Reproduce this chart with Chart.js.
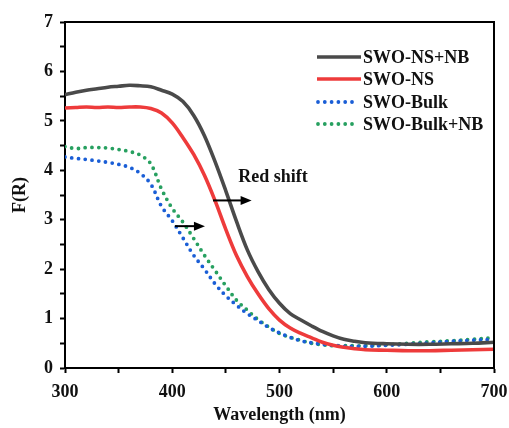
<!DOCTYPE html>
<html>
<head>
<meta charset="utf-8">
<script src="https://cdn.jsdelivr.net/npm/chart.js@4.4.1/dist/chart.umd.min.js"></script>
<style>
  html, body { margin: 0; padding: 0; background: #fff; }
  #wrap { width: 509px; height: 428px; position: relative; }
</style>
</head>
<body>
<div id="wrap"><canvas id="chart"></canvas></div>
<script>
// wavelength (nm) shared by all four spectra
const wavelengths = [300, 310, 320, 330, 340, 350, 360, 370, 380, 390, 400, 410, 420, 430, 440, 450, 460, 470, 480, 490, 500, 510, 520, 530, 540, 550, 560, 570, 580, 600, 620, 640, 660, 680, 700];

const nsNb   = [5.53, 5.58, 5.62, 5.65, 5.68, 5.70, 5.72, 5.71, 5.69, 5.62, 5.54, 5.39, 5.11, 4.70, 4.17, 3.58, 2.96, 2.39, 1.95, 1.59, 1.31, 1.10, 0.97, 0.85, 0.74, 0.65, 0.58, 0.54, 0.51, 0.49, 0.48, 0.48, 0.49, 0.50, 0.52];
const ns     = [5.26, 5.27, 5.28, 5.27, 5.28, 5.27, 5.28, 5.28, 5.25, 5.16, 4.96, 4.66, 4.32, 3.90, 3.38, 2.80, 2.27, 1.85, 1.50, 1.20, 0.97, 0.81, 0.70, 0.61, 0.52, 0.46, 0.42, 0.39, 0.37, 0.36, 0.35, 0.35, 0.36, 0.37, 0.38];
const bulk   = [4.27, 4.24, 4.22, 4.19, 4.16, 4.12, 4.06, 3.94, 3.72, 3.27, 2.98, 2.63, 2.28, 2.00, 1.70, 1.46, 1.27, 1.10, 0.96, 0.82, 0.71, 0.62, 0.55, 0.51, 0.48, 0.46, 0.44, 0.44, 0.44, 0.46, 0.48, 0.51, 0.54, 0.56, 0.58];
const bulkNb = [4.48, 4.44, 4.46, 4.46, 4.45, 4.42, 4.38, 4.31, 4.13, 3.62, 3.23, 2.95, 2.62, 2.28, 1.97, 1.66, 1.37, 1.17, 0.98, 0.83, 0.70, 0.62, 0.56, 0.50, 0.47, 0.45, 0.45, 0.45, 0.45, 0.47, 0.50, 0.53, 0.55, 0.58, 0.61];

const seriesNames = ['SWO-NS+NB', 'SWO-NS', 'SWO-Bulk', 'SWO-Bulk+NB'];
const xTicks = [300, 400, 500, 600, 700];
const yTicks = [0, 1, 2, 3, 4, 5, 6, 7];

const FONT = '"Liberation Serif", "Times New Roman", serif';

function pts(ys) {
  return wavelengths.map((x, i) => ({ x: x, y: ys[i] }));
}

function solid(label, ys, color) {
  return {
    label, data: pts(ys), borderColor: color, backgroundColor: color,
    borderWidth: 3.6, pointRadius: 0, tension: 0.35
  };
}

function dotted(label, ys, color) {
  return {
    label, data: pts(ys), borderColor: color, backgroundColor: color,
    borderWidth: 3.8, borderDash: [0, 6.8], borderCapStyle: 'round',
    pointRadius: 0, tension: 0.35
  };
}

// frame, legend and the "Red shift" arrows
const extras = {
  id: 'extras',
  afterDraw(chart) {
    const { ctx, chartArea: a, scales: { x, y } } = chart;
    ctx.save();
    ctx.strokeStyle = '#000';
    ctx.lineWidth = 2;
    ctx.beginPath();
    ctx.moveTo(a.left, a.top);
    ctx.lineTo(a.right, a.top);
    ctx.lineTo(a.right, a.bottom);
    ctx.stroke();

    // legend
    const rows = [57, 79, 102, 124];
    ctx.font = 'bold 18px ' + FONT;
    ctx.textBaseline = 'middle';
    ctx.textAlign = 'left';
    chart.data.datasets.forEach((ds, i) => {
      const yy = rows[i];
      ctx.strokeStyle = ds.borderColor;
      ctx.lineWidth = ds.borderWidth;
      ctx.lineCap = ds.borderCapStyle || 'butt';
      ctx.setLineDash(ds.borderDash || []);
      ctx.beginPath();
      if (ds.borderDash) {
        ctx.moveTo(318, yy);
        ctx.lineTo(358, yy);
      } else {
        ctx.moveTo(317, yy);
        ctx.lineTo(361, yy);
      }
      ctx.stroke();
      ctx.setLineDash([]);
      ctx.fillStyle = '#111';
      ctx.fillText(ds.label, 363, yy + 1);
    });

    // arrows
    const arrow = (x0, x1, yv) => {
      const px0 = x.getPixelForValue(x0), px1 = x.getPixelForValue(x1), py = y.getPixelForValue(yv);
      ctx.strokeStyle = '#000';
      ctx.fillStyle = '#000';
      ctx.lineWidth = 2;
      ctx.lineCap = 'butt';
      ctx.beginPath();
      ctx.moveTo(px0, py);
      ctx.lineTo(px1 - 8, py);
      ctx.stroke();
      ctx.beginPath();
      ctx.moveTo(px1, py);
      ctx.lineTo(px1 - 11, py - 4.5);
      ctx.lineTo(px1 - 11, py + 4.5);
      ctx.closePath();
      ctx.fill();
    };
    arrow(438, 474, 3.39);
    arrow(402.5, 430.5, 2.87);

    ctx.fillStyle = '#111';
    ctx.font = 'bold 18px ' + FONT;
    ctx.textBaseline = 'middle';
    ctx.fillText('Red shift', x.getPixelForValue(461.5), y.getPixelForValue(3.85));
    ctx.restore();
  }
};

new Chart(document.getElementById('chart'), {
  type: 'line',
  data: {
    datasets: [
      solid(seriesNames[0], nsNb, '#4a4a4a'),
      solid(seriesNames[1], ns, '#ee3b3b'),
      dotted(seriesNames[2], bulk, '#1a5ed6'),
      dotted(seriesNames[3], bulkNb, '#27a060')
    ]
  },
  options: {
    responsive: true,
    maintainAspectRatio: false,
    animation: false,
    layout: { padding: { top: 22, right: 15, left: 0, bottom: 0 } },
    plugins: { legend: { display: false }, tooltip: { enabled: false } },
    scales: {
      x: {
        type: 'linear', min: 300, max: 700,
        afterFit: s => { s.height = 60; s.paddingLeft = 0; s.paddingRight = 0; },
        border: { display: true, color: '#000', width: 2 },
        grid: { drawOnChartArea: false, drawTicks: true, tickLength: 5, tickColor: '#000', tickWidth: 2 },
        ticks: {
          stepSize: 50, autoSkip: false, maxRotation: 0, padding: 9, color: '#111',
          font: { family: FONT, size: 18, weight: 'bold' },
          callback: v => xTicks.includes(v) ? v : ''
        },
        title: {
          display: true, text: 'Wavelength (nm)', color: '#111',
          font: { family: FONT, size: 18, weight: 'bold' },
          padding: { top: 0, bottom: 2 }
        }
      },
      y: {
        min: 0, max: 7,
        afterFit: s => { s.width = 65; s.paddingTop = 0; s.paddingBottom = 0; },
        border: { display: true, color: '#000', width: 2 },
        grid: { drawOnChartArea: false, drawTicks: true, tickLength: 5, tickColor: '#000', tickWidth: 2 },
        ticks: {
          stepSize: 0.5, autoSkip: false, padding: 7, color: '#111',
          font: { family: FONT, size: 18, weight: 'bold' },
          callback: v => yTicks.includes(v) ? v : ''
        },
        title: {
          display: true, text: 'F(R)', color: '#111',
          font: { family: FONT, size: 18, weight: 'bold' },
          padding: { top: 10, bottom: 0 }
        }
      }
    }
  },
  plugins: [extras]
});
</script>
</body>
</html>
